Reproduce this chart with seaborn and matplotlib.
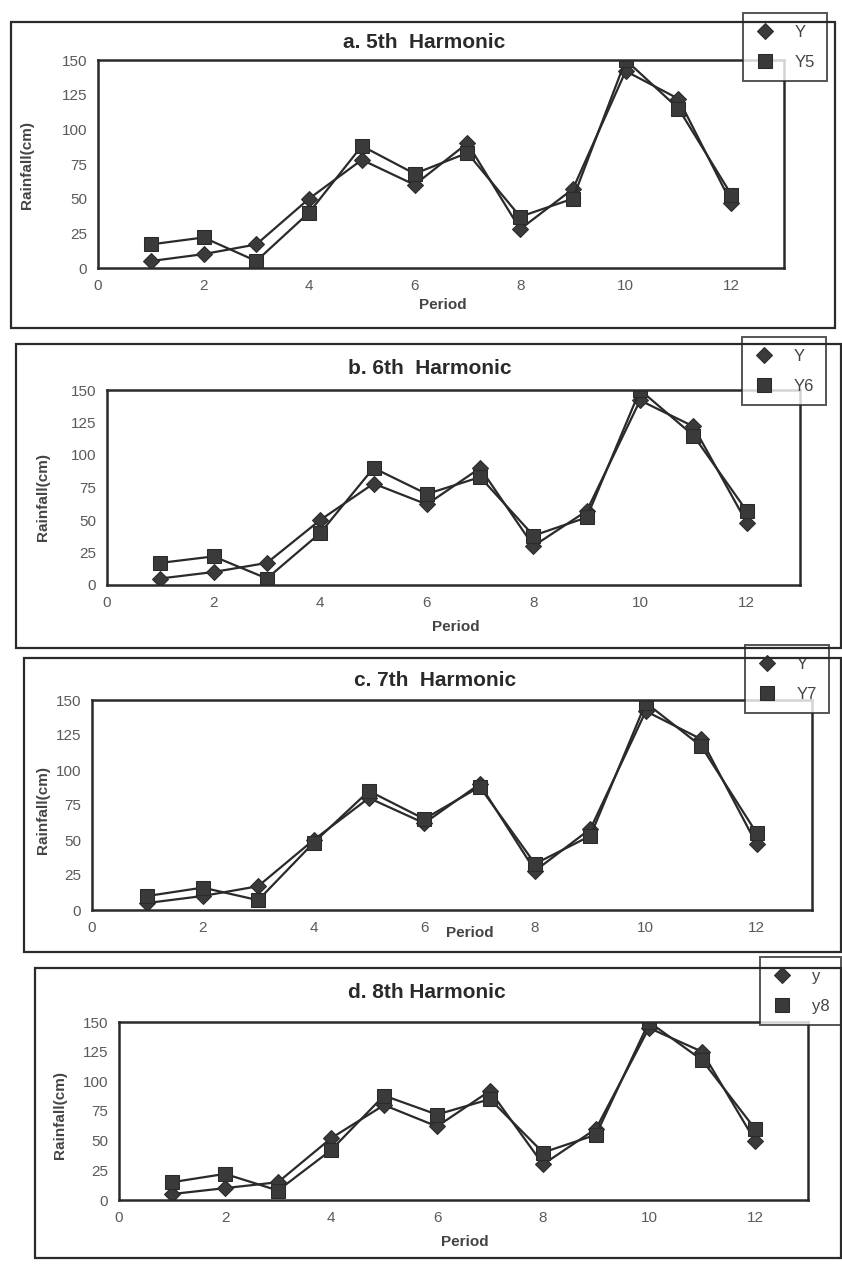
import pandas as pd
import matplotlib
matplotlib.use("Agg")
import matplotlib.pyplot as plt
from matplotlib.patches import Rectangle
import seaborn as sns

# rainfall data
period = [1, 2, 3, 4, 5, 6, 7, 8, 9, 10, 11, 12]
y_a = [5, 10, 17, 50, 78, 60, 90, 28, 57, 142, 122, 47]
y5 = [17, 22, 5, 40, 88, 68, 83, 37, 50, 150, 115, 53]
y_b = [5, 10, 17, 50, 78, 62, 90, 30, 57, 142, 122, 48]
y6 = [17, 22, 5, 40, 90, 70, 83, 38, 52, 150, 115, 57]
y_c = [5, 10, 17, 50, 80, 62, 90, 28, 58, 142, 122, 47]
y7 = [10, 16, 7, 48, 85, 65, 88, 33, 53, 148, 117, 55]
y_d = [5, 10, 15, 52, 80, 62, 92, 30, 60, 145, 125, 50]
y8 = [15, 22, 8, 42, 88, 72, 85, 40, 55, 150, 118, 60]

titles = ["a. 5th  Harmonic", "b. 6th  Harmonic", "c. 7th  Harmonic", "d. 8th Harmonic"]
obs_names = ["Y", "Y", "Y", "y"]
fit_names = ["Y5", "Y6", "Y7", "y8"]
x_ticks = [0, 2, 4, 6, 8, 10, 12]
y_ticks = [0, 25, 50, 75, 100, 125, 150]

W, H = 842, 1265

# pixel boxes (left, top, right, bottom) for each panel
frames = [(11, 22, 835, 328), (16, 344, 841, 648), (24, 658, 841, 952), (35, 968, 841, 1258)]
areas = [(98, 60, 784, 268), (107, 390, 800, 585), (92, 700, 812, 910), (119, 1022, 808, 1200)]
legends = [(743, 13), (742, 337), (745, 645), (760, 957)]
title_pos = [(424, 42), (430, 368), (435, 681), (427, 993)]
xlab_pos = [(443, 305), (456, 627), (470, 933), (465, 1242)]
ylab_pos = [(27, 165), (43, 497), (43, 810), (60, 1115)]

sns.set_style("white")
plt.rcParams['font.family'] = ['Liberation Sans Narrow', 'Liberation Sans', 'DejaVu Sans']

ink = "#2a2a2a"
fill = "#3a3a3a"
fig = plt.figure(figsize=(W / 100, H / 100), dpi=100)
fig.patch.set_facecolor("white")

series = [(y_a, y5), (y_b, y6), (y_c, y7), (y_d, y8)]


def fx(px):
    return px / W


def fy(py):
    return 1 - py / H


for i, (obs, fit) in enumerate(series):
    l, t, r, b = frames[i]
    fig.add_artist(Rectangle((fx(l), fy(b)), fx(r) - fx(l), fy(t) - fy(b),
                             transform=fig.transFigure, fill=False,
                             edgecolor=ink, lw=1.6))

    l, t, r, b = areas[i]
    ax = fig.add_axes([fx(l), fy(b), fx(r) - fx(l), fy(t) - fy(b)])
    df = pd.DataFrame({"period": period, "obs": obs, "fit": fit})
    sns.lineplot(data=df, x="period", y="obs", ax=ax, color=ink, lw=1.6,
                 marker="D", markersize=8, markeredgecolor=ink,
                 markerfacecolor=fill, label=obs_names[i])
    sns.lineplot(data=df, x="period", y="fit", ax=ax, color=ink, lw=1.6,
                 marker="s", markersize=10, markeredgecolor=ink,
                 markerfacecolor=fill, label=fit_names[i])

    ax.set_xlim(0, 13)
    ax.set_ylim(0, 150)
    ax.set_xticks(x_ticks)
    ax.set_yticks(y_ticks)
    ax.tick_params(length=0, labelsize=11, labelcolor="#5a5a5a", pad=8)
    for s in ax.spines.values():
        s.set_color(ink)
        s.set_linewidth(1.8)
    ax.set_xlabel("")
    ax.set_ylabel("")

    tx, ty = title_pos[i]
    fig.text(fx(tx), fy(ty), titles[i], ha="center", va="center",
             fontsize=15, fontweight="bold", color=ink)
    lx, ly = xlab_pos[i]
    fig.text(fx(lx), fy(ly), "Period", ha="center", va="center",
             fontsize=11, fontweight="bold", color="#444444")
    vx, vy = ylab_pos[i]
    fig.text(fx(vx), fy(vy), "Rainfall(cm)", ha="center", va="center",
             rotation=90, fontsize=11, fontweight="bold", color="#444444")

    gx, gy = legends[i]
    leg = ax.legend(loc="upper left", bbox_to_anchor=(fx(gx), fy(gy)),
                    bbox_transform=fig.transFigure, frameon=True,
                    fancybox=False, fontsize=12, handlelength=1.2,
                    borderpad=0.7, labelspacing=0.9, handletextpad=1.2,
                    borderaxespad=0)
    leg.get_frame().set_edgecolor(ink)
    leg.get_frame().set_linewidth(1.4)
    for h in leg.get_lines():
        h.set_linestyle("none")
    for txt in leg.get_texts():
        txt.set_color("#444444")

fig.savefig("out.png", dpi=100, facecolor="white")
